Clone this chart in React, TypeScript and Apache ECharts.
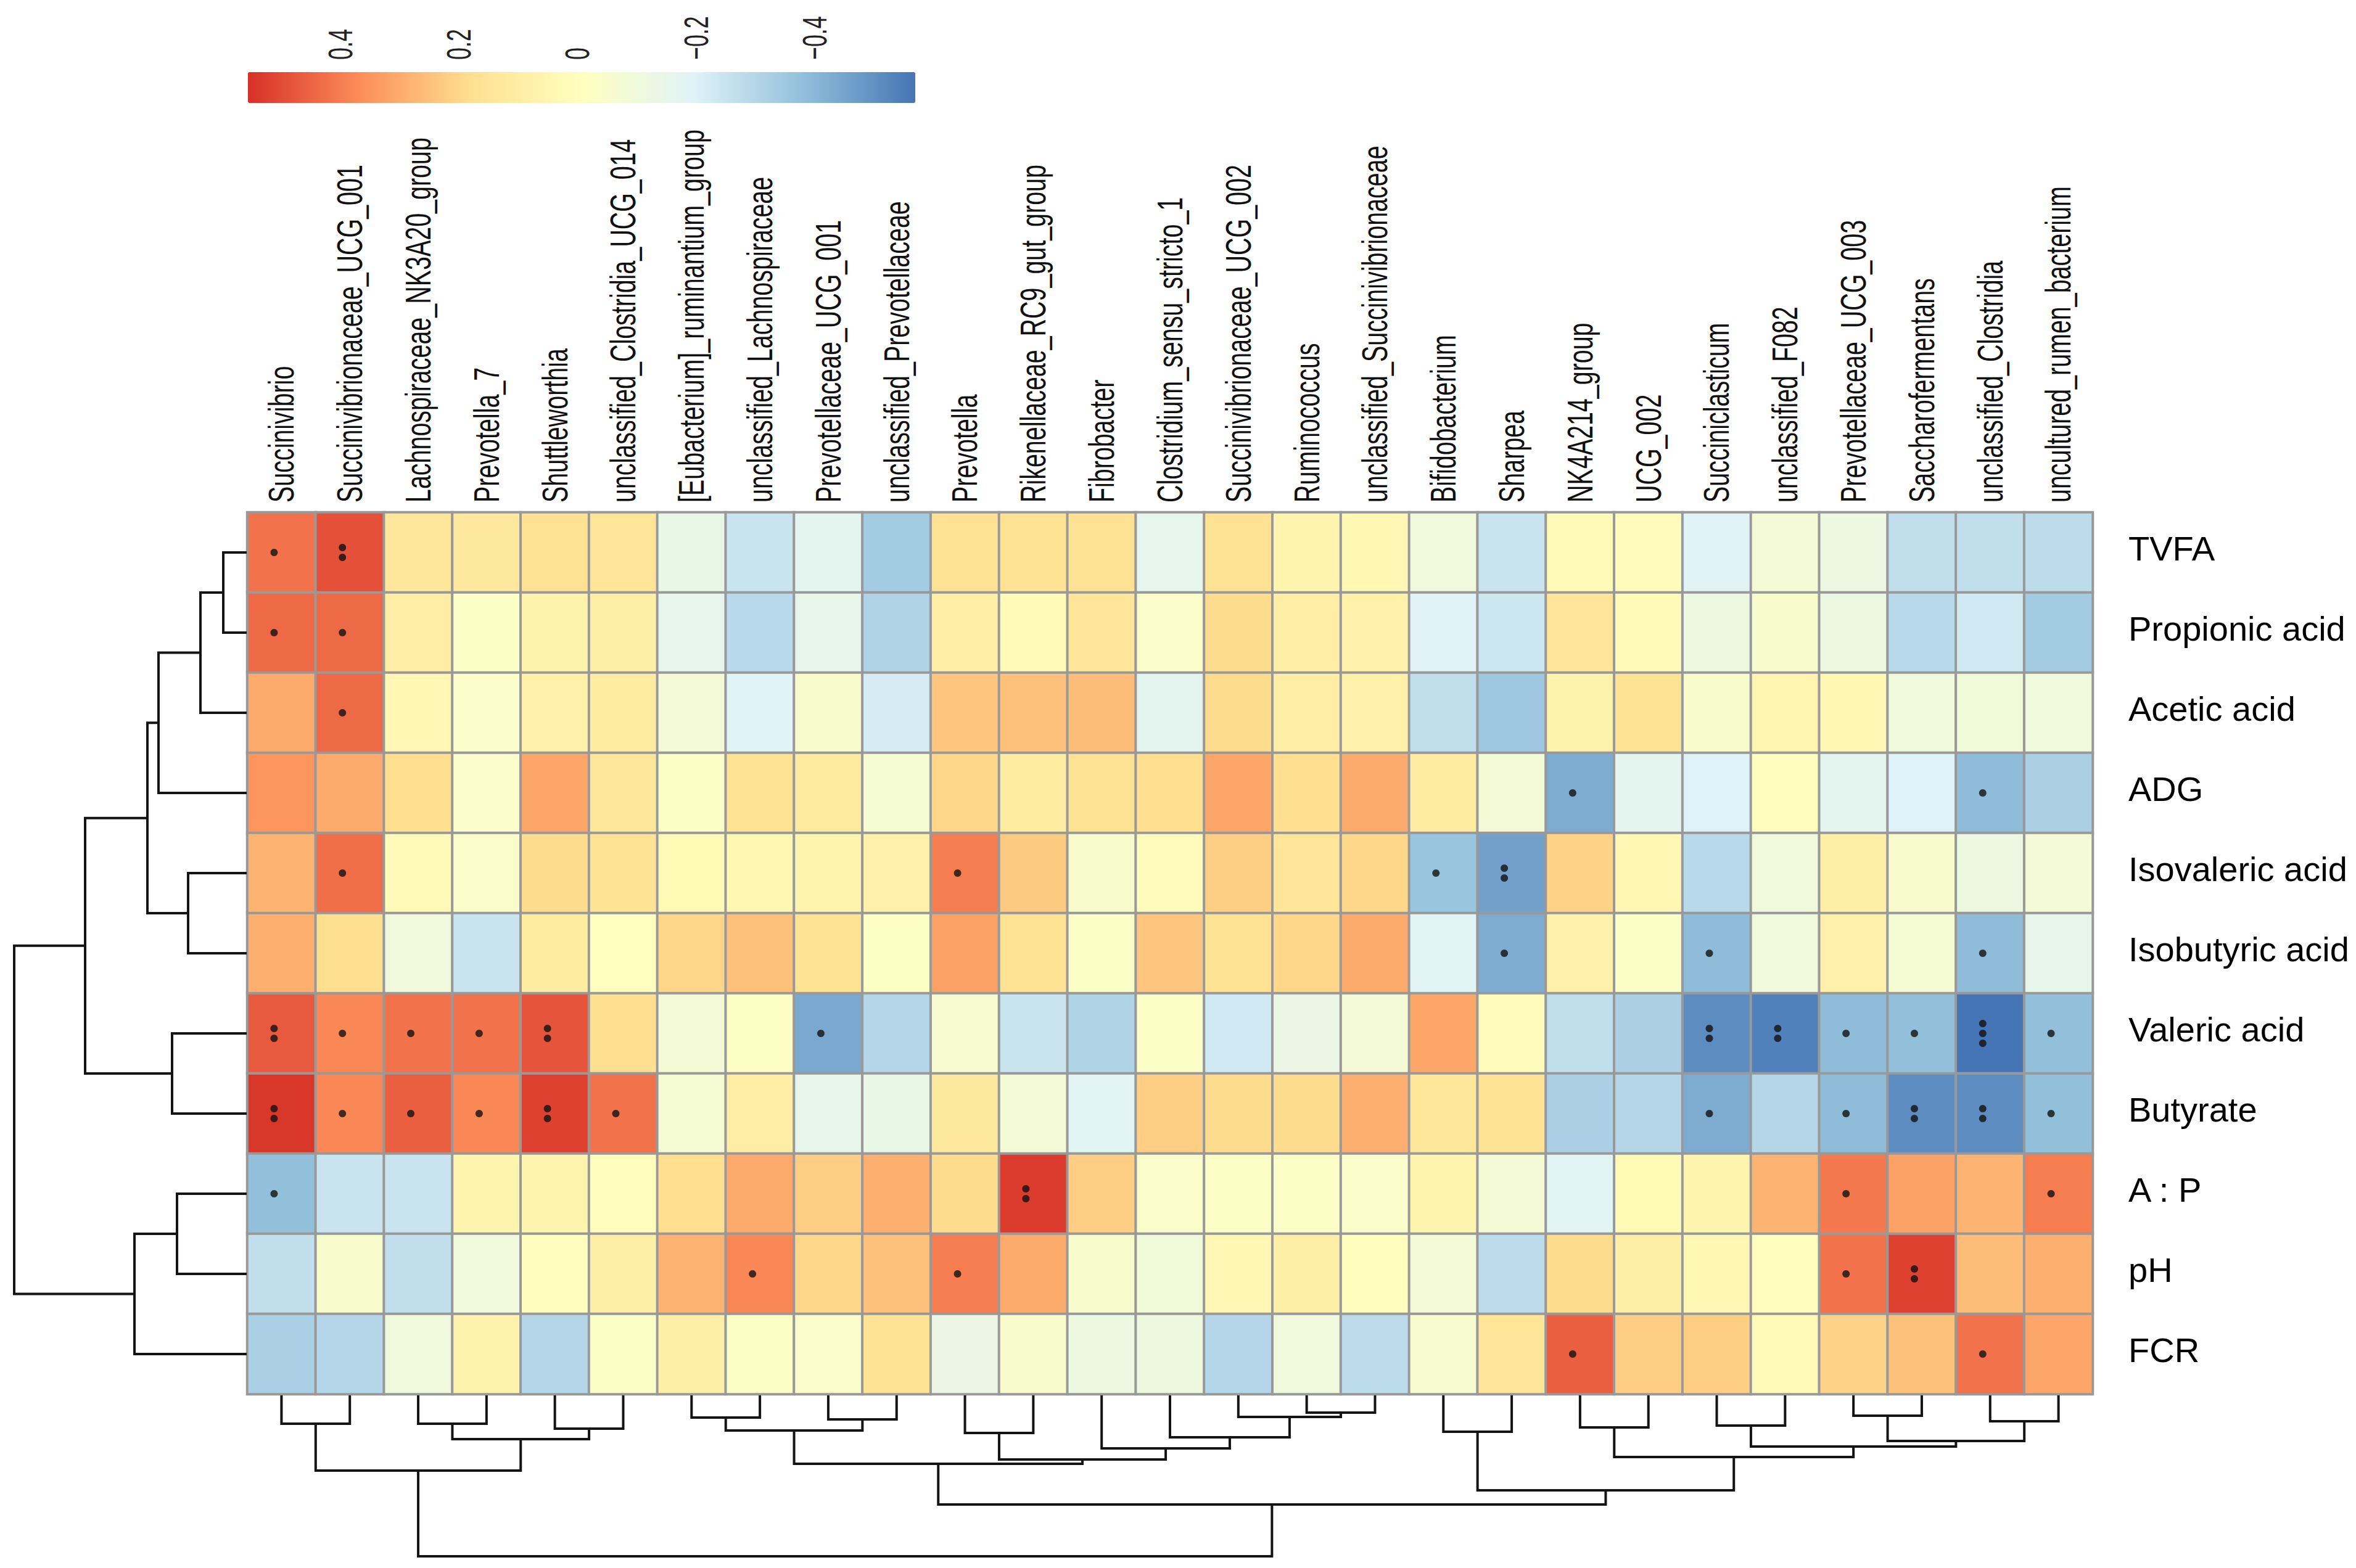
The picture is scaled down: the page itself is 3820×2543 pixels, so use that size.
import React, { useEffect, useRef } from "react";
import * as echarts from "echarts";

const columns = [
  "Succinivibrio", "Succinivibrionaceae_UCG_001", "Lachnospiraceae_NK3A20_group", "Prevotella_7",
  "Shuttleworthia", "unclassified_Clostridia_UCG_014", "[Eubacterium]_ruminantium_group",
  "unclassified_Lachnospiraceae", "Prevotellaceae_UCG_001", "unclassified_Prevotellaceae", "Prevotella",
  "Rikenellaceae_RC9_gut_group", "Fibrobacter", "Clostridium_sensu_stricto_1", "Succinivibrionaceae_UCG_002",
  "Ruminococcus", "unclassified_Succinivibrionaceae", "Bifidobacterium", "Sharpea", "NK4A214_group",
  "UCG_002", "Succiniclasticum", "unclassified_F082", "Prevotellaceae_UCG_003", "Saccharofermentans",
  "unclassified_Clostridia", "uncultured_rumen_bacterium",
];

const rows = ["TVFA", "Propionic acid", "Acetic acid", "ADG", "Isovaleric acid", "Isobutyric acid",
  "Valeric acid", "Butyrate", "A : P", "pH", "FCR"];

const valTVFA = [0.42, 0.49, 0.14, 0.13, 0.17, 0.15, -0.14, -0.25, -0.17, -0.34, 0.17, 0.16, 0.17, -0.16, 0.17, 0.06, 0.04, -0.10, -0.25, 0.02, 0.01, -0.19, -0.08, -0.12, -0.27, -0.27, -0.28];
const valPropionic = [0.44, 0.44, 0.10, -0.03, 0.07, 0.09, -0.16, -0.29, -0.15, -0.31, 0.10, 0.02, 0.15, -0.04, 0.19, 0.10, 0.08, -0.19, -0.24, 0.15, 0.02, -0.12, -0.05, -0.12, -0.29, -0.23, -0.34];
const valAcetic = [0.30, 0.44, 0.04, -0.04, 0.08, 0.11, -0.08, -0.19, -0.05, -0.22, 0.24, 0.25, 0.26, -0.17, 0.19, 0.10, 0.08, -0.27, -0.35, 0.07, 0.16, -0.05, 0.05, 0.04, -0.10, -0.09, -0.10];
const valADG = [0.35, 0.30, 0.18, -0.04, 0.31, 0.14, -0.03, 0.16, 0.12, -0.07, 0.20, 0.11, 0.17, 0.18, 0.31, 0.18, 0.30, 0.11, -0.08, -0.43, -0.17, -0.20, 0.00, -0.17, -0.20, -0.39, -0.32];
const valIsovaleric = [0.28, 0.43, 0.02, -0.04, 0.19, 0.16, 0.03, 0.04, 0.06, 0.08, 0.40, 0.23, -0.05, 0.01, 0.22, 0.15, 0.20, -0.36, -0.46, 0.21, 0.04, -0.29, -0.10, 0.09, -0.05, -0.12, -0.08];
const valIsobutyric = [0.29, 0.18, -0.10, -0.25, 0.11, -0.01, 0.20, 0.25, 0.16, -0.02, 0.32, 0.16, -0.03, 0.24, 0.16, 0.20, 0.30, -0.18, -0.43, 0.08, -0.03, -0.39, -0.10, 0.08, -0.07, -0.39, -0.15];
const valValeric = [0.47, 0.38, 0.42, 0.42, 0.48, 0.18, -0.08, -0.02, -0.44, -0.30, -0.06, -0.25, -0.31, -0.03, -0.23, -0.13, -0.08, 0.31, 0.01, -0.27, -0.32, -0.51, -0.54, -0.39, -0.38, -0.57, -0.38];
const valButyrate = [0.54, 0.38, 0.46, 0.38, 0.52, 0.42, -0.07, 0.10, -0.15, -0.14, 0.13, -0.08, -0.18, 0.22, 0.19, 0.19, 0.29, 0.14, 0.16, -0.32, -0.30, -0.43, -0.30, -0.39, -0.51, -0.51, -0.38];
const valAP = [-0.38, -0.25, -0.25, 0.06, 0.06, 0.00, 0.18, 0.30, 0.22, 0.29, 0.19, 0.53, 0.22, -0.04, -0.03, -0.03, -0.04, 0.06, -0.08, -0.18, 0.03, 0.06, 0.28, 0.41, 0.32, 0.28, 0.40];
const valPH = [-0.27, -0.05, -0.27, -0.10, 0.00, 0.09, 0.28, 0.38, 0.20, 0.25, 0.40, 0.30, -0.05, -0.09, 0.04, 0.09, 0.00, -0.08, -0.28, 0.19, 0.09, 0.04, 0.00, 0.42, 0.52, 0.26, 0.29];
const valFCR = [-0.32, -0.30, -0.10, 0.07, -0.30, -0.03, 0.09, -0.03, -0.04, 0.16, -0.13, -0.05, -0.12, -0.11, -0.30, -0.10, -0.28, -0.06, 0.15, 0.46, 0.22, 0.22, 0.02, 0.21, 0.25, 0.42, 0.31];

const rowValues = [valTVFA, valPropionic, valAcetic, valADG, valIsovaleric, valIsobutyric, valValeric, valButyrate, valAP, valPH, valFCR];

// [column, row, number of stars]
const significance = [
  [0, 0, 1], [1, 0, 2],
  [0, 1, 1], [1, 1, 1],
  [1, 2, 1],
  [19, 3, 1], [25, 3, 1],
  [1, 4, 1], [10, 4, 1], [17, 4, 1], [18, 4, 2],
  [18, 5, 1], [21, 5, 1], [25, 5, 1],
  [0, 6, 2], [1, 6, 1], [2, 6, 1], [3, 6, 1], [4, 6, 2], [8, 6, 1], [21, 6, 2], [22, 6, 2], [23, 6, 1], [24, 6, 1], [25, 6, 3], [26, 6, 1],
  [0, 7, 2], [1, 7, 1], [2, 7, 1], [3, 7, 1], [4, 7, 2], [5, 7, 1], [21, 7, 1], [23, 7, 1], [24, 7, 2], [25, 7, 2], [26, 7, 1],
  [0, 8, 1], [11, 8, 2], [23, 8, 1], [26, 8, 1],
  [7, 9, 1], [10, 9, 1], [23, 9, 1], [24, 9, 2],
  [19, 10, 1], [25, 10, 1],
];

// hclust-style merges: negative = leaf (-1 is first leaf), positive = earlier merge (1-based), then height
const colMerges = [
  [-1, -2, 46], [-3, -4, 46], [-5, -6, 54], [2, 3, 71], [1, 4, 122],
  [-7, -8, 36], [-9, -10, 39], [6, 7, 57], [-11, -12, 61], [-16, -17, 28],
  [-15, 10, 35], [-14, 11, 68], [-13, 12, 86], [9, 13, 104], [8, 14, 111],
  [-18, -19, 59], [-20, -21, 52], [-22, -23, 49], [-24, -25, 33], [-26, -27, 42],
  [19, 20, 74], [18, 21, 83], [17, 22, 100], [16, 23, 154], [15, 24, 177], [5, 25, 261],
];
const rowMerges = [
  [-1, -2, 38], [1, -3, 75], [2, -4, 143], [-5, -6, 95], [3, 4, 161],
  [-7, -8, 121], [5, 6, 262], [-9, -10, 113], [8, -11, 182], [7, 9, 377],
];

const colorbarTicks = [0.4, 0.2, 0, -0.2, -0.4];
const colorMin = -0.57;
const colorMax = 0.555;
const palette = ["#4575B4", "#91BFDB", "#E0F3F8", "#FFFFBF", "#FEE090", "#FC8D59", "#D73027"];

function dendroSegments(merges: number[][]) {
  const pos: number[] = [];
  const ht: number[] = [];
  const get = (ref: number) => (ref < 0 ? [-ref - 1 + 0.5, 0] : [pos[ref - 1], ht[ref - 1]]);
  return merges.map(([a, b, h], k) => {
    const [p1, h1] = get(a);
    const [p2, h2] = get(b);
    pos[k] = (p1 + p2) / 2;
    ht[k] = h;
    return [p1, p2, h1, h2, h];
  });
}

const FONT = '"Liberation Sans", Arial, Helvetica, sans-serif';

export default function App() {
  const ref = useRef<HTMLDivElement>(null);
  useEffect(() => {
    document.body.style.margin = "0";
    document.body.style.overflow = "hidden";
    if (!ref.current) return;
    const chart = echarts.init(ref.current, null, { renderer: "svg" });

    const heatData: number[][] = [];
    rowValues.forEach((vals, r) => vals.forEach((v, c) => heatData.push([c, r, v])));

    const dotData: any[] = [];
    significance.forEach(([c, r, n]) => {
      for (let k = 0; k < n; k++) {
        dotData.push({ value: [c, r], symbolOffset: [-12, (k - (n - 1) / 2) * 16] });
      }
    });

    const colSegs = dendroSegments(colMerges);
    const rowSegs = dendroSegments(rowMerges);
    const lineStyle = { stroke: "#141414", lineWidth: 4, fill: "none" };

    const bar = { left: 402, top: 117, thick: 50, len: 1082 };

    const option: any = {
      animation: false,
      backgroundColor: "#ffffff",
      textStyle: { fontFamily: FONT },
      grid: [
        { left: 401, top: 831, width: 2992, height: 1430 },
        { left: 401, top: 2263, width: 2992, height: 261 },
        { left: 0, top: 831, width: 400, height: 1430 },
      ],
      xAxis: [
        { type: "category", gridIndex: 0, data: columns, position: "top", axisLabel: { show: false }, axisLine: { show: false }, axisTick: { show: false }, splitLine: { show: false } },
        { type: "value", gridIndex: 1, min: 0, max: 27, show: false },
        { type: "value", gridIndex: 2, min: 0, max: 400, inverse: true, show: false },
      ],
      yAxis: [
        { type: "category", gridIndex: 0, data: rows, inverse: true, position: "right", axisLine: { show: false }, axisTick: { show: false }, splitLine: { show: false }, axisLabel: { fontSize: 56, color: "#000", margin: 58, fontFamily: FONT, verticalAlign: "bottom", lineHeight: 14 } },
        { type: "value", gridIndex: 1, min: 0, max: 261, inverse: true, show: false },
        { type: "value", gridIndex: 2, min: 0, max: 11, inverse: true, show: false },
      ],
      visualMap: {
        type: "continuous",
        min: colorMin,
        max: colorMax,
        orient: "horizontal",
        inverse: true,
        left: bar.left,
        top: bar.top,
        itemWidth: bar.thick,
        itemHeight: bar.len,
        calculable: false,
        hoverLink: false,
        padding: 0,
        seriesIndex: 0,
        inRange: { color: palette },
      },
      series: [
        {
          type: "heatmap",
          xAxisIndex: 0,
          yAxisIndex: 0,
          data: heatData,
          itemStyle: { borderColor: "#999999", borderWidth: 4 },
          emphasis: { disabled: true },
        },
        {
          type: "scatter",
          xAxisIndex: 0,
          yAxisIndex: 0,
          symbol: "circle",
          symbolSize: 12,
          itemStyle: { color: "#111111" },
          data: dotData,
          z: 5,
          silent: true,
        },
        {
          type: "custom",
          xAxisIndex: 1,
          yAxisIndex: 1,
          data: colSegs,
          clip: false,
          silent: true,
          renderItem: (_p: any, api: any) => {
            const x1 = api.value(0), x2 = api.value(1), h1 = api.value(2), h2 = api.value(3), hm = api.value(4);
            return {
              type: "polyline",
              shape: { points: [api.coord([x1, h1]), api.coord([x1, hm]), api.coord([x2, hm]), api.coord([x2, h2])] },
              style: lineStyle,
            };
          },
        },
        {
          type: "custom",
          xAxisIndex: 2,
          yAxisIndex: 2,
          data: rowSegs,
          clip: false,
          silent: true,
          renderItem: (_p: any, api: any) => {
            const y1 = api.value(0), y2 = api.value(1), h1 = api.value(2), h2 = api.value(3), hm = api.value(4);
            return {
              type: "polyline",
              shape: { points: [api.coord([h1, y1]), api.coord([hm, y1]), api.coord([hm, y2]), api.coord([h2, y2])] },
              style: lineStyle,
            };
          },
        },
      ],
    };

    chart.setOption(option);

    const graphics: any[] = [];
    columns.forEach((name, i) => {
      const x = chart.convertToPixel({ xAxisIndex: 0 } as any, i) as unknown as number;
      graphics.push({
        type: "text",
        x,
        y: 815,
        rotation: Math.PI / 2,
        scaleX: 0.68,
        silent: true,
        style: { text: name, fontSize: 58, fontFamily: FONT, fill: "#111", align: "left", verticalAlign: "middle" },
      });
    });
    colorbarTicks.forEach((v) => {
      const x = bar.left + ((colorMax - v) / (colorMax - colorMin)) * bar.len;
      const label = v === 0 ? "0" : v < 0 ? "\u2212" + Math.abs(v).toFixed(1) : v.toFixed(1);
      graphics.push({
        type: "text",
        x,
        y: 97,
        rotation: Math.PI / 2,
        scaleX: 0.64,
        silent: true,
        style: { text: label, fontSize: 56, fontFamily: FONT, fill: "#222", align: "left", verticalAlign: "middle" },
      });
    });
    chart.setOption({ graphic: graphics });

    return () => chart.dispose();
  }, []);
  return <div ref={ref} style={{ width: 3820, height: 2543 }} />;
}
